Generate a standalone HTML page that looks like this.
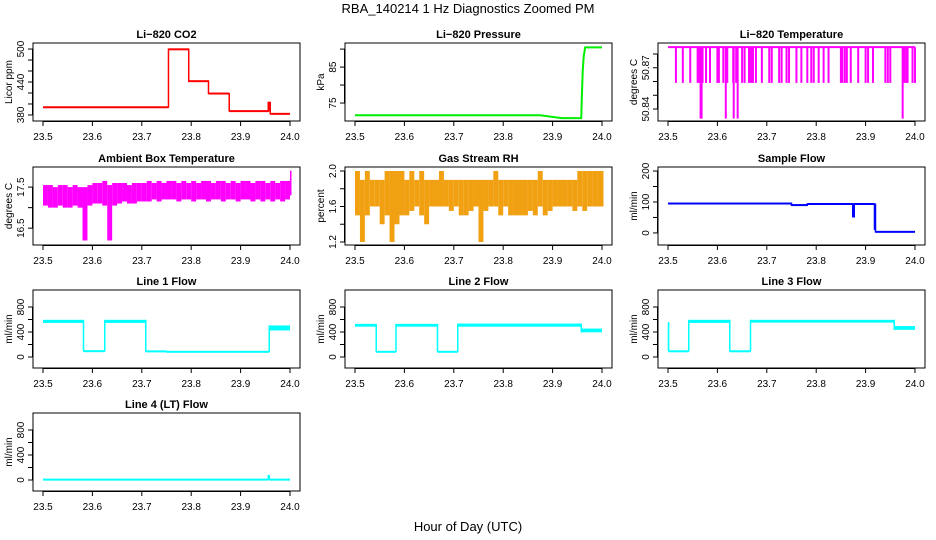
<!DOCTYPE html>
<html><head><meta charset="utf-8"><style>
html,body{margin:0;padding:0;background:#fff;}
svg{display:block;font-family:"Liberation Sans",Arial,sans-serif;}
</style></head><body>
<svg id="chart" width="936" height="540" viewBox="0 0 936 540">
<text x="468" y="13" text-anchor="middle" font-size="13">RBA_140214  1 Hz Diagnostics Zoomed PM</text>
<text x="468" y="531" text-anchor="middle" font-size="13">Hour of Day (UTC)</text>
</svg>
<script>
// ---- shared x ticks ----
const xTicks = [23.5, 23.6, 23.7, 23.8, 23.9, 24.0];
const xTickLabels = ["23.5", "23.6", "23.7", "23.8", "23.9", "24.0"];

// ---- CO2 (ppm) segments ----
const co2Start = [23.5, 23.754, 23.795, 23.835, 23.877, 23.956, 23.96];
const co2End   = [23.754, 23.795, 23.835, 23.877, 23.956, 23.96, 24.0];
const co2Lo    = [393, 498, 440, 418, 386, 386, 381];
const co2Hi    = [395, 501, 443, 420, 388, 404, 383];

// ---- Pressure (kPa) ----
const presT = [23.5, 23.875, 23.918, 23.958, 23.959, 23.961, 23.963, 23.966, 24.0];
const presV = [71.6, 71.6, 70.8, 70.8, 76, 84, 88, 90.5, 90.5];

// ---- Li-820 temperature drop lines ----
const tempTop = 50.885;
const tempDropT = [23.516,23.53,23.545,23.56,23.563,23.566,23.57,23.577,23.585,23.6,23.603,23.612,23.62,23.632,23.638,23.65,23.655,23.664,23.668,23.672,23.678,23.69,23.705,23.71,23.725,23.73,23.74,23.745,23.76,23.77,23.782,23.79,23.795,23.805,23.815,23.825,23.85,23.853,23.858,23.862,23.87,23.885,23.9,23.905,23.915,23.94,23.945,23.95,23.978,23.982,23.985,23.995,24.0];
const tempDropV = 50.859;
const tempDeepT = [23.566, 23.568, 23.617, 23.633, 23.641, 23.975];
const tempDeepV = 50.833;

// ---- Ambient box temperature bands (every 0.01 h) ----
const ambT  = [23.5,23.51,23.52,23.53,23.54,23.55,23.56,23.57,23.58,23.59,23.6,23.61,23.62,23.63,23.64,23.65,23.66,23.67,23.68,23.69,23.7,23.71,23.72,23.73,23.74,23.75,23.76,23.77,23.78,23.79,23.8,23.81,23.82,23.83,23.84,23.85,23.86,23.87,23.88,23.89,23.9,23.91,23.92,23.93,23.94,23.95,23.96,23.97,23.98,23.99,24.0];
const ambLo = [17.05,17.0,17.0,17.05,17.0,17.0,17.05,17.0,16.2,17.05,17.1,17.1,17.05,16.2,17.05,17.1,17.15,17.1,17.1,17.15,17.15,17.15,17.2,17.15,17.2,17.2,17.2,17.15,17.2,17.2,17.15,17.2,17.2,17.15,17.2,17.2,17.15,17.2,17.2,17.15,17.2,17.2,17.15,17.2,17.15,17.2,17.15,17.2,17.15,17.2,17.3];
const ambHi = [17.55,17.55,17.5,17.55,17.55,17.5,17.55,17.5,17.5,17.55,17.6,17.6,17.65,17.55,17.6,17.6,17.6,17.55,17.6,17.6,17.6,17.65,17.6,17.65,17.6,17.65,17.65,17.6,17.65,17.6,17.65,17.6,17.65,17.65,17.6,17.65,17.65,17.6,17.65,17.6,17.65,17.65,17.6,17.65,17.65,17.6,17.65,17.6,17.65,17.65,17.9];

// ---- Gas stream RH bands (every 0.01 h) ----
const rhT  = ambT;
const rhLo = [1.5,1.2,1.5,1.6,1.6,1.4,1.5,1.2,1.4,1.5,1.5,1.55,1.6,1.5,1.4,1.6,1.6,1.6,1.6,1.55,1.6,1.5,1.5,1.55,1.6,1.2,1.55,1.6,1.6,1.5,1.6,1.5,1.5,1.5,1.5,1.55,1.5,1.6,1.5,1.55,1.6,1.6,1.6,1.6,1.55,1.6,1.55,1.6,1.6,1.6,1.6];
const rhHi = [2.0,1.9,2.0,1.9,1.9,1.9,2.0,2.0,2.0,2.0,1.9,2.0,1.9,2.0,1.9,1.9,1.9,2.0,1.9,1.9,1.9,1.9,1.9,1.9,1.9,1.9,1.9,1.9,2.0,1.9,1.9,1.9,1.9,1.9,1.9,1.9,1.9,2.0,1.9,1.9,1.9,1.9,1.9,1.9,1.9,2.0,2.0,2.0,2.0,2.0,2.0];

// ---- Sample flow segments ----
const sfStart = [23.5, 23.75, 23.782, 23.874, 23.877, 23.918, 23.92];
const sfEnd   = [23.75, 23.782, 23.874, 23.877, 23.918, 23.92, 24.0];
const sfLo    = [92, 87, 91, 50, 91, 10, 1];
const sfHi    = [98, 93, 96, 96, 96, 95, 6];

// ---- Line flows (start, end, lo, hi) ----
const l1Start = [23.5, 23.582, 23.625, 23.708, 23.75, 23.958];
const l1End   = [23.582, 23.625, 23.708, 23.75, 23.958, 24.0];
const l1Lo    = [545, 88, 545, 82, 78, 425];
const l1Hi    = [595, 98, 595, 98, 88, 505];

const l2Start = [23.5, 23.543, 23.583, 23.667, 23.708, 23.958];
const l2End   = [23.543, 23.583, 23.667, 23.708, 23.958, 24.0];
const l2Lo    = [485, 78, 485, 78, 485, 395];
const l2Hi    = [530, 88, 530, 88, 535, 455];

const l3Start = [23.5, 23.501, 23.542, 23.625, 23.667, 23.958];
const l3End   = [23.501, 23.542, 23.625, 23.667, 23.958, 24.0];
const l3Lo    = [90, 88, 545, 88, 550, 435];
const l3Hi    = [560, 95, 595, 95, 595, 495];

const l4Start = [23.5, 23.956, 23.958];
const l4End   = [23.956, 23.958, 24.0];
const l4Lo    = [2, 2, 2];
const l4Hi    = [10, 80, 10];

const NS = "http://www.w3.org/2000/svg";
const svg = document.getElementById("chart");
function mk(tag, attrs, parent) {
  const e = document.createElementNS(NS, tag);
  for (const k in attrs) e.setAttribute(k, attrs[k]);
  (parent || svg).appendChild(e);
  return e;
}

const colX = [33, 345, 658];
const rowY = [43, 167, 290, 413];
const PW = 267, PH = 78;

function makePanel(col, row, title, ylab, ylim, yticks, ylabels, name) {
  const x0 = colX[col], y0 = rowY[row];
  const g = mk("g", {});
  
  
  const sx = v => x0 + 10 + (v - 23.5) / 0.5 * (PW - 20);
  const sy = v => y0 + PH - (v - ylim[0]) / (ylim[1] - ylim[0]) * PH;
  const plot = mk("g", {}, g);
  
  
  const box = mk("rect", {x: x0, y: y0, width: PW, height: PH, fill: "none", stroke: "#000", "stroke-width": 1}, g);
  
  
  const t = mk("text", {x: x0 + PW / 2, y: y0 - 5, "text-anchor": "middle", "font-size": 11, "font-weight": "bold"}, g);
  
  
  t.textContent = title;
  const xa = mk("g", {}, g);
  
  
  mk("line", {x1: sx(23.5), x2: sx(24), y1: y0 + PH + 0.5, y2: y0 + PH + 0.5, stroke: "#000"}, xa);
  xTicks.forEach((v, i) => {
    mk("line", {x1: sx(v), x2: sx(v), y1: y0 + PH, y2: y0 + PH + 5, stroke: "#000"}, xa);
    const l = mk("text", {x: sx(v), y: y0 + PH + 19, "text-anchor": "middle", "font-size": 10}, xa);
    
    
    l.textContent = xTickLabels[i];
  });
  const ya = mk("g", {}, g);
  
  
  mk("line", {x1: x0 - 0.5, x2: x0 - 0.5, y1: sy(yticks[0]), y2: sy(yticks[yticks.length - 1]), stroke: "#000"}, ya);
  yticks.forEach(v => {
    mk("line", {x1: x0 - 5, x2: x0, y1: sy(v), y2: sy(v), stroke: "#000"}, ya);
  });
  ylabels.forEach(([v, s]) => {
    const l = mk("text", {x: 0, y: 0, "text-anchor": "middle", "font-size": 10, transform: `translate(${x0 - 9},${sy(v)}) rotate(-90)`}, ya);
    
    
    l.textContent = s;
  });
  const yl = mk("text", {x: 0, y: 0, "text-anchor": "middle", "font-size": 10, transform: `translate(${x0 - 21},${y0 + PH / 2}) rotate(-90)`}, g);
  
  
  yl.textContent = ylab;
  return {sx, sy, plot};
}

function bands(p, st, en, lo, hi, color) {
  for (let i = 0; i < st.length; i++) {
    const x1 = p.sx(st[i]), x2 = p.sx(en[i]);
    const yA = p.sy(hi[i]), yB = p.sy(lo[i]);
    const h = Math.max(yB - yA, 2);
    const r = mk("rect", {x: x1, y: (yA + yB) / 2 - h / 2, width: Math.max(x2 - x1, 1.2), height: h, fill: color}, p.plot);
    
    
    if (i > 0) {
      const ya = p.sy(Math.max(hi[i], hi[i-1])), yb = p.sy(Math.min(lo[i], lo[i-1]));
      const c = mk("rect", {x: x1 - 0.75, y: ya, width: 1.5, height: yb - ya, fill: color}, p.plot);
      
      
    }
  }
}
function vbands(p, T, lo, hi, color) {
  for (let i = 0; i < T.length; i++) {
    const x1 = p.sx(T[i]);
    const x2 = i < T.length - 1 ? p.sx(T[i + 1]) : x1 + 1.5;
    const r = mk("rect", {x: x1, y: p.sy(hi[i]), width: Math.max(x2 - x1, 1.5), height: p.sy(lo[i]) - p.sy(hi[i]), fill: color}, p.plot);
    
    
  }
}

let p = makePanel(0, 0, "Li\u2212820 CO2", "Licor ppm", [369, 511], [380,400,420,440,460,480,500], [[380,"380"],[440,"440"],[500,"500"]], "co2");
bands(p, co2Start, co2End, co2Lo, co2Hi, "#ff0000");

p = makePanel(1, 0, "Li\u2212820 Pressure", "kPa", [70.0, 91.7], [75,80,85,90], [[75,"75"],[85,"85"]], "pressure");
{
  const pts = presT.map((t, i) => p.sx(t) + "," + p.sy(presV[i])).join(" ");
  const pl = mk("polyline", {points: pts, fill: "none", stroke: "#00ee00", "stroke-width": 2}, p.plot);
  
  
}

p = makePanel(2, 0, "Li\u2212820 Temperature", "degrees C", [50.8313, 50.888], [50.84,50.85,50.86,50.87,50.88], [[50.84,"50.84"],[50.87,"50.87"]], "li820-temp");
{
  const top = mk("line", {x1: p.sx(23.5), x2: p.sx(24), y1: p.sy(tempTop), y2: p.sy(tempTop), stroke: "#ff00ff", "stroke-width": 2}, p.plot);
  
  
  tempDropT.forEach(t => {
    const l = mk("line", {x1: p.sx(t), x2: p.sx(t), y1: p.sy(tempTop), y2: p.sy(tempDropV), stroke: "#ff00ff", "stroke-width": 2}, p.plot);
    
    
  });
  tempDeepT.forEach(t => {
    const l = mk("line", {x1: p.sx(t), x2: p.sx(t), y1: p.sy(tempTop), y2: p.sy(tempDeepV), stroke: "#ff00ff", "stroke-width": 2}, p.plot);
    
    
  });
}

p = makePanel(0, 1, "Ambient Box Temperature", "degrees C", [16.09, 17.99], [16.5,17.0,17.5], [[16.5,"16.5"],[17.5,"17.5"]], "ambient-temp");
vbands(p, ambT, ambLo, ambHi, "#ff00ff");

p = makePanel(1, 1, "Gas Stream RH", "percent", [1.166, 2.045], [1.2,1.4,1.6,1.8,2.0], [[1.2,"1.2"],[1.6,"1.6"],[2.0,"2.0"]], "gas-rh");
vbands(p, rhT, rhLo, rhHi, "#f0a010");

p = makePanel(2, 1, "Sample Flow", "ml/min", [-39, 213], [0,50,100,150,200], [[0,"0"],[100,"100"],[200,"200"]], "sample-flow");
bands(p, sfStart, sfEnd, sfLo, sfHi, "#0000ff");

const flowTicks = [0,200,400,600,800];
const flowLabels = [[0,"0"],[400,"400"],[800,"800"]];
p = makePanel(0, 2, "Line 1 Flow", "ml/min", [-176, 1072], flowTicks, flowLabels, "line1-flow");
bands(p, l1Start, l1End, l1Lo, l1Hi, "#00ffff");
p = makePanel(1, 2, "Line 2 Flow", "ml/min", [-176, 1072], flowTicks, flowLabels, "line2-flow");
bands(p, l2Start, l2End, l2Lo, l2Hi, "#00ffff");
p = makePanel(2, 2, "Line 3 Flow", "ml/min", [-176, 1072], flowTicks, flowLabels, "line3-flow");
bands(p, l3Start, l3End, l3Lo, l3Hi, "#00ffff");
p = makePanel(0, 3, "Line 4 (LT) Flow", "ml/min", [-176, 1072], flowTicks, flowLabels, "line4-flow");
bands(p, l4Start, l4End, l4Lo, l4Hi, "#00ffff");
</script>
</body></html>
